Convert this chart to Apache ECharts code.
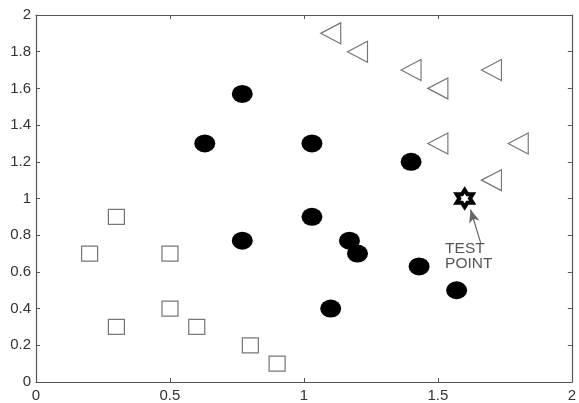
<!DOCTYPE html>
<html>
<head>
<meta charset="utf-8">
<script src="https://cdn.jsdelivr.net/npm/echarts@6/dist/echarts.min.js"></script>
<style>html,body{margin:0;padding:0;background:#fff}#c{width:579px;height:403px}</style>
</head>
<body>
<div id="c"></div>
<script>
var squares = [[0.2,0.7],[0.3,0.9],[0.3,0.3],[0.5,0.7],[0.5,0.4],[0.6,0.3],[0.8,0.2],[0.9,0.1]];
var circles = [[0.77,1.57],[0.63,1.3],[1.03,1.3],[1.4,1.2],[1.03,0.9],[0.77,0.77],[1.17,0.77],[1.2,0.7],[1.43,0.63],[1.57,0.5],[1.1,0.4]];
var triangles = [[1.1,1.9],[1.2,1.8],[1.4,1.7],[1.5,1.6],[1.7,1.7],[1.5,1.3],[1.8,1.3],[1.7,1.1]];
var testPoint = [[1.6,1.0]];
var arrowFrom = [1.66,0.757];
var arrowTo = [1.622,0.94];
var labelTexts = [[1.527,0.728,'TEST'],[1.527,0.642,'POINT']];
var xTicks = {min:0,max:2,interval:0.5};
var yTicks = {min:0,max:2,interval:0.2};

var axisColor = '#555';
var font = 'Liberation Sans, Arial, sans-serif';
function mkX(pos, showLabel){
  return {type:'value',min:xTicks.min,max:xTicks.max,interval:xTicks.interval,position:pos,
    axisLine:{show:true,onZero:false,lineStyle:{color:axisColor,width:1.2}},
    axisTick:{show:true,inside:true,length:4,lineStyle:{color:axisColor}},
    splitLine:{show:false},
    axisLabel:{show:showLabel,fontSize:15,color:'#333',fontFamily:font,margin:6}};
}
function mkY(pos, showLabel){
  return {type:'value',min:yTicks.min,max:yTicks.max,interval:yTicks.interval,position:pos,
    axisLine:{show:true,onZero:false,lineStyle:{color:axisColor,width:1.2}},
    axisTick:{show:true,inside:true,length:4,lineStyle:{color:axisColor}},
    splitLine:{show:false},
    axisLabel:{show:showLabel,fontSize:15,color:'#333',fontFamily:font,margin:5}};
}
var chart = echarts.init(document.getElementById('c'));
chart.setOption({
  animation:false,
  grid:{left:36,right:6,top:15,bottom:21,containLabel:false},
  xAxis:[mkX('bottom',true),mkX('top',false)],
  yAxis:[mkY('left',true),mkY('right',false)],
  series:[
    {type:'scatter',data:squares,symbol:'rect',symbolSize:[16,15],
      itemStyle:{color:'#fff',borderColor:'#777',borderWidth:1.2,opacity:1}},
    {type:'scatter',data:circles,symbol:'circle',symbolSize:[21,18],
      itemStyle:{color:'#000',opacity:1}},
    {type:'scatter',data:triangles,symbol:'path://M0,5 L10,0 L10,10 Z',symbolSize:[20,21],
      itemStyle:{color:'#fff',borderColor:'#777',borderWidth:1.2,opacity:1}},
    {type:'scatter',data:testPoint,
      symbol:'path://M0,-10 L2.9,-5 L8.66,-5 L5.77,0 L8.66,5 L2.9,5 L0,10 L-2.9,5 L-8.66,5 L-5.77,0 L-8.66,-5 L-2.9,-5 Z',
      symbolSize:[16,17],itemStyle:{color:'#fff',borderColor:'#000',borderWidth:4,opacity:1},z:5},
    {type:'scatter',data:labelTexts,symbolSize:0,silent:true,
      label:{show:true,position:[0,0],align:'left',verticalAlign:'middle',
        formatter:function(p){return p.data[2];},fontSize:15.5,color:'#2a2a2a',fontFamily:font},
      markLine:{silent:true,symbol:['none','arrow'],symbolSize:[8,13],
        lineStyle:{color:'#666',width:1.2,type:'solid',opacity:1},label:{show:false},
        data:[[{coord:arrowFrom},{coord:arrowTo,itemStyle:{color:'#222'}}]]}}
  ]
});
</script>
</body>
</html>
